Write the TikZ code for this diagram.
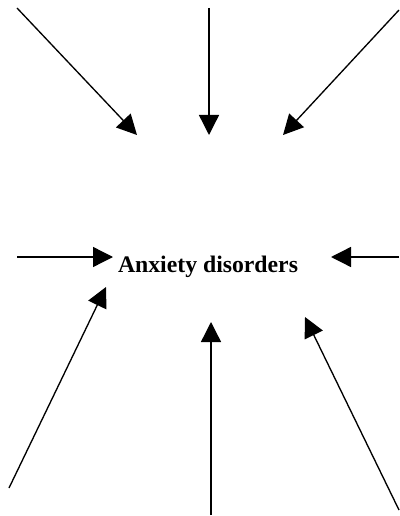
\documentclass[tikz,border=0pt]{standalone}
\usepackage{fontspec}
\setmainfont{Liberation Serif}
\usetikzlibrary{arrows.meta}
\begin{document}
\begin{tikzpicture}[x=0.75pt,y=-0.75pt,
  feeder/.style={line width=1pt,-{Triangle[length=15pt,width=15pt]}},
  label/.style={font=\fontsize{17.8}{21}\selectfont\bfseries,inner sep=0pt}]
  \useasboundingbox (0,0) rectangle (399,516);
  \node[label,anchor=base] (anx) at (208,272) {Anxiety disorders};
  % outer ends of the arrows
  \coordinate (s1) at (17,8);
  \coordinate (s2) at (209,8);
  \coordinate (s3) at (399,10);
  \coordinate (s4) at (17,257);
  \coordinate (s5) at (399,257);
  \coordinate (s6) at (9,488);
  \coordinate (s7) at (211,515);
  \coordinate (s8) at (399,510);
  % arrow tips around the label
  \coordinate (t1) at (137,135);
  \coordinate (t2) at (209,135);
  \coordinate (t3) at (283,135);
  \coordinate (t4) at (113,257);
  \coordinate (t5) at (331,257);
  \coordinate (t6) at (106,287);
  \coordinate (t7) at (211,322);
  \coordinate (t8) at (305,317);
  \foreach \i in {1,...,8} \draw[feeder] (s\i) -- (t\i);
\end{tikzpicture}
\end{document}
